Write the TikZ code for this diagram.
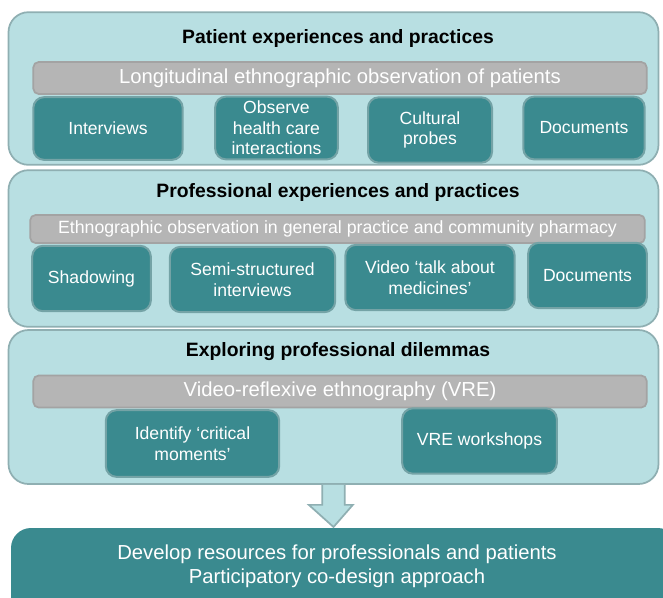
\documentclass[tikz,border=0pt]{standalone}
\usepackage{fontspec}
\setmainfont{Liberation Sans}
\usepackage{tikz}
\usetikzlibrary{positioning}

\definecolor{panelfill}{HTML}{B8DFE2}
\definecolor{panelline}{HTML}{8FAFB2}
\definecolor{barfill}{HTML}{B5B5B5}
\definecolor{barline}{HTML}{A3A3A3}
\definecolor{methodfill}{HTML}{3A8A8F}
\definecolor{methodline}{HTML}{74A3A6}

\begin{document}
\begin{tikzpicture}[x=0.75pt, y=-0.75pt,
        panel/.style={draw=panelline, fill=panelfill, line width=1.3pt, rounded corners=15pt, inner sep=0pt},
        heading/.style={font=\fontsize{14.5}{16}\selectfont\bfseries, text=black},
        bar/.style={draw=barline, fill=barfill, line width=1.3pt, rounded corners=4pt, inner sep=0pt,
            text=white, minimum height=24pt},
        method/.style={draw=methodline, fill=methodfill, line width=1.5pt, rounded corners=8pt, inner sep=0pt,
            text=white, align=center, font=\fontsize{13.2}{15.5}\selectfont},
        flow/.style={draw=panelline, fill=panelfill, line width=1.3pt, line join=miter}
    ]
        \useasboundingbox (0,0) rectangle (663,597);

        % three stages
        \node[panel, minimum width=487.5pt, minimum height=114.5pt] (patient) at (333.5,88.5) {};
        \node[panel, minimum width=487.5pt, minimum height=117.5pt] (prof) at (333.5,248.5) {};
        \node[panel, minimum width=487.5pt, minimum height=115.5pt] (dilemma) at (333.5,407) {};

        % patient experiences
        \node[heading] (patienthead) at (338,38) {Patient experiences and practices};
        \node[bar, minimum width=460pt, font=\fontsize{15.2}{17}\selectfont] (patientbar) at (340,78)
            {Longitudinal ethnographic observation of patients};
        \node[method, minimum width=112pt, minimum height=47pt] (interviews) at (108,128.5) {Interviews};
        \node[method, minimum width=92pt, minimum height=47pt] (observe) at (276.5,128)
            {Observe\\health care\\interactions};
        \node[method, minimum width=93pt, minimum height=49pt] (probes) at (430,130) {Cultural\\probes};
        \node[method, minimum width=91pt, minimum height=47pt] (patientdocs) at (584,128) {Documents};

        % professional experiences
        \node[heading] (profhead) at (338,192) {Professional experiences and practices};
        \node[bar, minimum width=461pt, minimum height=21pt, font=\fontsize{13.3}{15}\selectfont] (profbar) at (337.5,229)
            {Ethnographic observation in general practice and community pharmacy};
        \node[method, minimum width=89pt, minimum height=49pt] (shadowing) at (91.5,278.5) {Shadowing};
        \node[method, minimum width=124pt, minimum height=49pt] (semi) at (252.5,279.5)
            {Semi-structured\\interviews};
        \node[method, minimum width=127pt, minimum height=49pt] (video) at (430,277.5)
            {Video ‘talk about\\medicines’};
        \node[method, minimum width=89pt, minimum height=49pt] (profdocs) at (587.5,275.5) {Documents};

        % professional dilemmas
        \node[heading] (dilemmahead) at (338,352) {Exploring professional dilemmas};
        \node[bar, minimum width=460pt, font=\fontsize{15.2}{17}\selectfont] (vrebar) at (340,391.5)
            {Video-reflexive ethnography (VRE)};
        \node[method, minimum width=130pt, minimum height=50pt] (critical) at (192.5,443.5)
            {Identify ‘critical\\moments’};
        \node[method, minimum width=116pt, minimum height=49pt] (workshops) at (479.5,441) {VRE workshops};

        % outcome
        \node[method, draw=none, rounded corners=15pt, minimum width=500pt, minimum height=80pt,
            anchor=north west] (outcome) at (10,527) {};
        \node[text=white, align=center, font=\fontsize{15.2}{18}\selectfont] (outcometext) at (337,566)
            {Develop resources for professionals and patients\\Participatory co-design approach};

        % block arrow down to the outcome
        \coordinate (tip) at (dilemma.south |- outcome.north);
        \draw[flow] ([xshift=-8.5pt]dilemma.south) -- ([xshift=-8.5pt,yshift=-15pt]dilemma.south)
            -- ([xshift=-18.5pt,yshift=-15pt]dilemma.south) -- (tip)
            -- ([xshift=14.5pt,yshift=-15pt]dilemma.south) -- ([xshift=8.5pt,yshift=-15pt]dilemma.south)
            -- ([xshift=8.5pt]dilemma.south);
\end{tikzpicture}
\end{document}
